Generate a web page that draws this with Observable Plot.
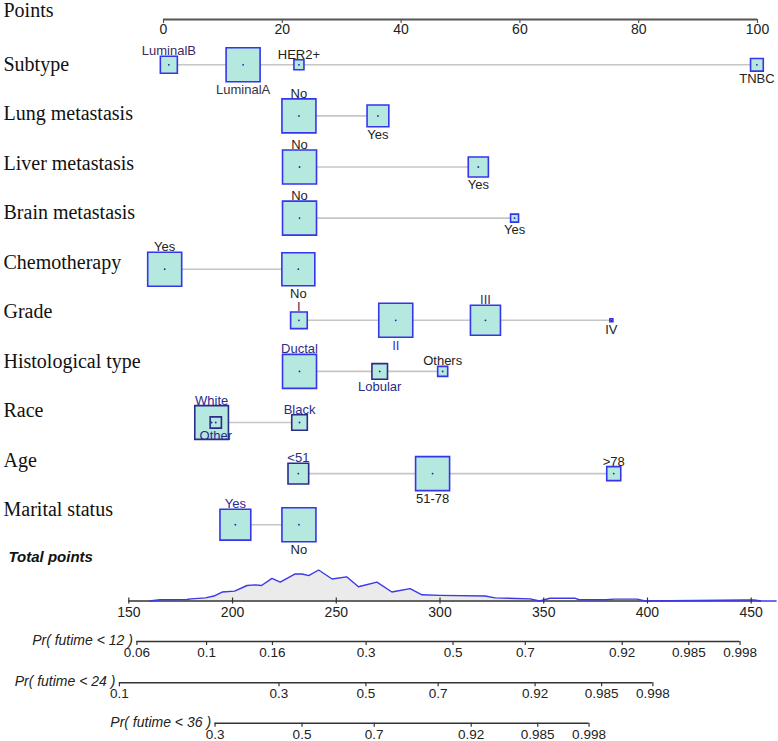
<!DOCTYPE html>
<html>
<head>
<meta charset="utf-8">
<script src="https://cdn.jsdelivr.net/npm/d3@7"></script>
<script src="https://cdn.jsdelivr.net/npm/@observablehq/plot@0.6"></script>
<style>
  html, body { margin: 0; padding: 0; background: #fff; }
</style>
</head>
<body>
<div id="chart"></div>
<script>
// ---------------- data ----------------
const variables = ["Subtype", "Lung metastasis", "Liver metastasis", "Brain metastasis",
  "Chemotherapy", "Grade", "Histological type", "Race", "Age", "Marital status"];

const subtypeLevels = ["LuminalB", "LuminalA", "HER2+", "TNBC"];
const subtypePoints = [0.9, 13.4, 22.8, 99.9];
const subtypeFreq = [0.25, 1.0, 0.087, 0.14];

const lungLevels = ["No", "Yes"];
const lungPoints = [22.8, 36.1];
const lungFreq = [1.0, 0.41];

const liverLevels = ["No", "Yes"];
const liverPoints = [22.9, 53.0];
const liverFreq = [1.0, 0.35];

const brainLevels = ["No", "Yes"];
const brainPoints = [22.9, 59.1];
const brainFreq = [1.0, 0.055];

const chemoLevels = ["Yes", "No"];
const chemoPoints = [0.2, 22.7];
const chemoFreq = [1.0, 0.94];

const gradeLevels = ["I", "II", "III", "IV"];
const gradePoints = [22.8, 39.1, 54.2, 75.4];
const gradeFreq = [0.24, 1.0, 0.78, 0.008];

const histLevels = ["Ductal", "Lobular", "Others"];
const histPoints = [22.9, 36.4, 47.0];
const histFreq = [1.0, 0.21, 0.087];

const raceLevels = ["White", "Other", "Black"];
const racePoints = [8.1, 8.8, 22.9];
const raceFreq = [0.98, 0.11, 0.21];

const ageLevels = ["<51", "51-78", ">78"];
const agePoints = [22.7, 45.3, 75.8];
const ageFreq = [0.37, 1.0, 0.17];

const maritalLevels = ["Yes", "No"];
const maritalPoints = [12.1, 22.8];
const maritalFreq = [0.82, 1.0];

const pointTicks = [0, 20, 40, 60, 80, 100];
const totalTicks = [150, 200, 250, 300, 350, 400, 450];
// total-points scale read against the points scale (150 and 450 positions)
const totalRange = [150, 450];
const totalAsPoints = [-5.84, 98.94];

// distribution of total points (relative density)
const densityTotal = [160, 165, 178, 180, 187, 191, 195, 201, 207, 211, 214, 219, 223, 230, 233.5, 236.7,
  241.5, 248, 255, 260.7, 269.6, 276.8, 285.6, 291.3, 300, 321.7, 326.5, 343.4, 348, 353, 365, 367,
  380, 384, 395, 399, 447, 452, 455, 462];
const densityValue = [0, 0.04, 0.05, 0.07, 0.10, 0.16, 0.29, 0.32, 0.50, 0.52, 0.50, 0.73, 0.61, 0.87, 0.87, 0.82,
  1.0, 0.71, 0.78, 0.46, 0.61, 0.29, 0.40, 0.20, 0.18, 0.16, 0.10, 0.07, 0, 0.09, 0.09, 0.04,
  0.04, 0.06, 0.06, 0, 0.03, 0.03, 0, 0];

// probability axes (Cox model: cloglog(p) linear in total points)
const probLabels = ["Pr( futime < 12 )", "Pr( futime < 24 )", "Pr( futime < 36 )"];
const probTicks12 = [0.06, 0.1, 0.16, 0.3, 0.5, 0.7, 0.92, 0.985, 0.998];
const probTicks24 = [0.1, 0.3, 0.5, 0.7, 0.92, 0.985, 0.998];
const probTicks36 = [0.3, 0.5, 0.7, 0.92, 0.985, 0.998];
const probBaseTotal = [329.4, 287.4, 256.6];   // total points where cloglog(p) = 0
const probSlope = 63.07;                        // total points per cloglog unit

// ---------------- build tables ----------------
const varLevels = [subtypeLevels, lungLevels, liverLevels, brainLevels, chemoLevels, gradeLevels, histLevels, raceLevels, ageLevels, maritalLevels];
const varPoints = [subtypePoints, lungPoints, liverPoints, brainPoints, chemoPoints, gradePoints, histPoints, racePoints, agePoints, maritalPoints];
const varFreq = [subtypeFreq, lungFreq, liverFreq, brainFreq, chemoFreq, gradeFreq, histFreq, raceFreq, ageFreq, maritalFreq];

// layout (pixels)
const rowY = v => 64.3 + 51.1 * v;
const rowLabelY = v => 64 + 49.45 * v;
const maxSide = 34;
const pointsAxisY = 19;
const totalAxisY = 600.5;
const probAxisY = [641, 682.3, 722.7];

const navy = "#2b2b8a", blue = "#3535ec";
const darkBoxes = new Set(["Race|White", "Race|Other", "Race|Black", "Histological type|Lobular", "Age|<51"]);
const labelColors = {
  "Subtype|LuminalB": "#3b2a62", "Subtype|LuminalA": "#333344",
  "Grade|I": "#3b2a62", "Grade|II": "#3030ee", "Grade|III": "#3b2a62",
  "Histological type|Ductal": navy, "Histological type|Lobular": navy,
  "Race|White": navy, "Race|Other": navy, "Race|Black": navy,
  "Age|<51": navy, "Marital status|Yes": navy
};

const levels = [];
varLevels.forEach((lv, v) => lv.forEach((name, j) => {
  const key = variables[v] + "|" + name;
  const half = maxSide / 2 * Math.sqrt(varFreq[v][j]);
  levels.push({
    v, name, pts: varPoints[v][j], freq: varFreq[v][j], above: j % 2 === 0, half,
    stroke: darkBoxes.has(key) ? navy : blue,
    color: labelColors[key] || "#222"
  });
}));
const ranges = variables.map((name, v) => ({v, lo: d3.min(varPoints[v]), hi: d3.max(varPoints[v])}));

const toPts = d3.scaleLinear().domain(totalRange).range(totalAsPoints);
const density = densityTotal.map((t, i) => ({t, d: densityValue[i]}));
const densityFill = density.filter(d => d.t <= 348);

const cll = p => Math.log(-Math.log(1 - p));
const probTickSets = [probTicks12, probTicks24, probTicks36];
const probTicks = [];
probTickSets.forEach((ts, k) => ts.forEach(p => probTicks.push({k, p, t: probBaseTotal[k] + probSlope * cll(p)})));
const probAxes = probTickSets.map((ts, k) => ({
  k, label: probLabels[k],
  t1: probBaseTotal[k] + probSlope * cll(ts[0]),
  t2: probBaseTotal[k] + probSlope * cll(ts[ts.length - 1])
}));

const rowLabels = [{text: "Points", y: 10}]
  .concat(variables.map((t, v) => ({text: t, y: rowLabelY(v)})));

const chart = Plot.plot({
  width: 778, height: 741,
  marginLeft: 0, marginRight: 0, marginTop: 0, marginBottom: 0,
  x: {domain: [0, 100], range: [163, 757], axis: null},
  y: {domain: [0, 741], range: [0, 741], axis: null},
  r: {type: "sqrt", domain: [0, 1], range: [0, maxSide / Math.sqrt(Math.PI)]},
  color: {type: "identity"},
  style: {fontFamily: "'Liberation Sans', Arial, sans-serif", background: "#fff", color: "#222", overflow: "visible"},
  marks: [
    // row labels
    Plot.text(rowLabels, {y: "y", text: "text", frameAnchor: "left", dx: 3, textAnchor: "start",
      fontFamily: "'Liberation Serif', 'Times New Roman', serif", fontSize: 20, fill: "#111"}),
    Plot.text(["Total points"], {y: () => 557, text: d => d, frameAnchor: "left", dx: 8, textAnchor: "start",
      fontWeight: "bold", fontStyle: "italic", fontSize: 15, fill: "#111"}),

    // points axis
    Plot.ruleY([pointsAxisY], {x1: () => 0, x2: () => 100, y: d => d, stroke: "#555", strokeWidth: 2}),
    Plot.ruleX(pointTicks, {x: d => d, y1: () => pointsAxisY, y2: () => pointsAxisY + 4, stroke: "#555", strokeWidth: 1.2}),
    Plot.text(pointTicks, {x: d => d, y: () => 29.5, text: d => String(d), fontSize: 14, fill: "#222"}),

    // connecting lines
    Plot.ruleY(ranges, {y: d => rowY(d.v), x1: "lo", x2: "hi", stroke: "#c6c6c6", strokeWidth: 1.6}),

    // boxes
    Plot.dot(levels, {x: "pts", y: d => rowY(d.v), r: "freq", symbol: "square",
      fill: "#b5e8df", stroke: "stroke", strokeWidth: 1.6}),
    Plot.dot(levels, {x: "pts", y: d => rowY(d.v), r: 0.9, fill: "#2020b0"}),

    // level labels
    Plot.text(levels.filter(d => d.above), {x: "pts", y: d => rowY(d.v) - d.half - 1, text: "name",
      lineAnchor: "bottom", fontSize: 13, fill: "color"}),
    Plot.text(levels.filter(d => !d.above), {x: "pts", y: d => rowY(d.v) + d.half + 3, text: "name",
      lineAnchor: "top", fontSize: 13, fill: "color"}),

    // total points distribution
    Plot.area(densityFill, {x1: d => toPts(d.t), y1: () => totalAxisY, y2: d => totalAxisY - d.d * 31, fill: "#ebebeb"}),
    Plot.ruleY([totalAxisY], {x1: () => toPts(150), x2: () => toPts(455), y: d => d, stroke: "#333", strokeWidth: 1.6}),
    Plot.line(density, {x: d => toPts(d.t), y: d => totalAxisY - d.d * 31, stroke: "#3a3ae6", strokeWidth: 1.4}),
    Plot.ruleX(totalTicks, {x: d => toPts(d), y1: () => totalAxisY - 3, y2: () => totalAxisY + 3, stroke: "#333", strokeWidth: 1.2}),
    Plot.text(totalTicks, {x: d => toPts(d), y: () => 612, text: d => String(d), fontSize: 14, fill: "#222"}),

    // probability axes
    Plot.ruleY(probAxes, {y: d => probAxisY[d.k], x1: d => toPts(d.t1), x2: d => toPts(d.t2), stroke: "#333", strokeWidth: 1.6}),
    Plot.ruleX(probTicks, {x: d => toPts(d.t), y1: d => probAxisY[d.k], y2: d => probAxisY[d.k] + 4, stroke: "#333", strokeWidth: 1.2}),
    Plot.text(probTicks, {x: d => toPts(d.t), y: d => probAxisY[d.k] + 11, text: d => String(d.p), fontSize: 13.5, fill: "#222"}),
    Plot.text(probAxes, {x: d => toPts(d.t1), y: d => probAxisY[d.k] - 1, text: "label", textAnchor: "end", dx: -4,
      fontStyle: "italic", fontSize: 14, fill: "#222"})
  ]
});

document.getElementById("chart").appendChild(chart);
</script>
</body>
</html>
